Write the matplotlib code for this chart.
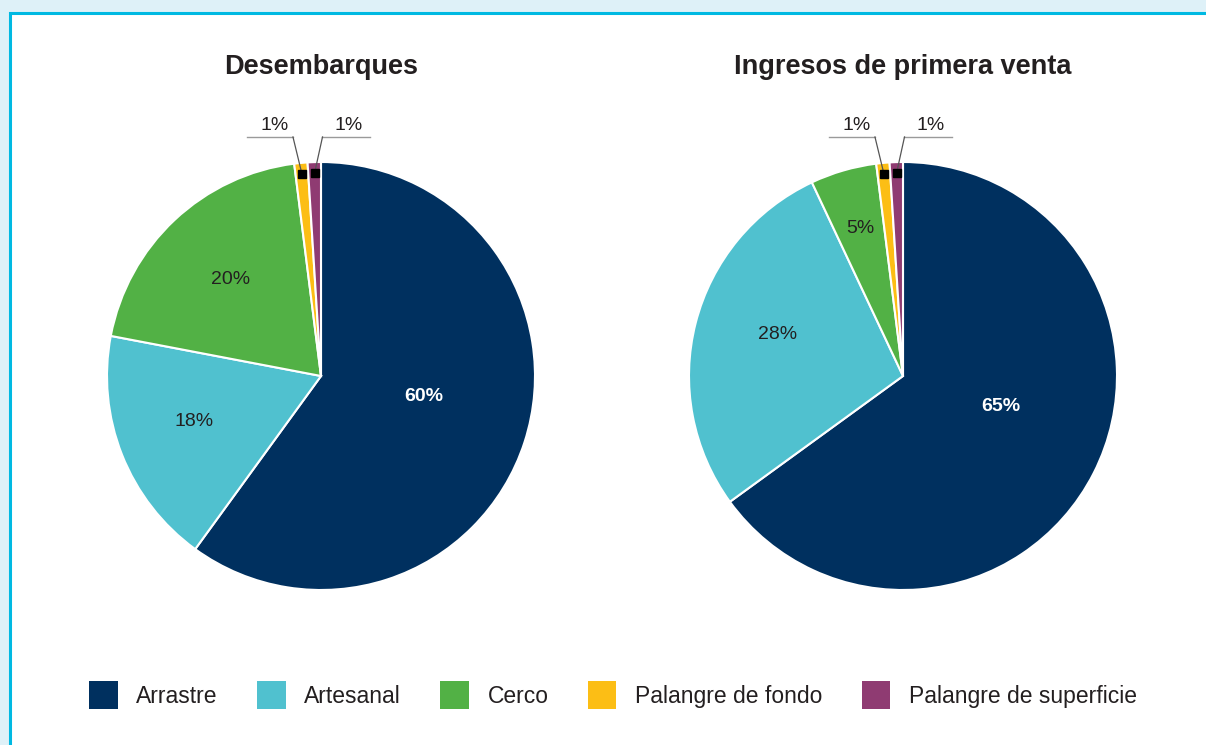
import numpy as np
import matplotlib
matplotlib.use("Agg")
import matplotlib.pyplot as plt
from matplotlib.patches import Rectangle

plt.rcParams['font.family'] = ['Liberation Sans', 'DejaVu Sans']

categories = ['Arrastre', 'Artesanal', 'Cerco', 'Palangre de fondo', 'Palangre de superficie']
colors = ['#00305f', '#50c1cf', '#52b145', '#fcbe15', '#8f3b72']
titles = ['Desembarques', 'Ingresos de primera venta']
desembarques = [60, 18, 20, 1, 1]
ingresos = [65, 28, 5, 1, 1]
series = [desembarques, ingresos]

# label placement (distance from centre, angle tweak in degrees) per slice
label_dist = [[0.49, 0.63, 0.62], [0.48, 0.62, 0.72]]
label_turn = [[6.5, -2, 0], [9.5, -4, 0]]

W, H = 1206, 745
fig = plt.figure(figsize=(W / 100, H / 100), dpi=100)
fig.patch.set_facecolor('#def1f8')

# white panel with cyan border
panel = Rectangle((9.5 / W, -0.1), 1.2, 1.1 - 13.5 / H, transform=fig.transFigure,
                  facecolor='white', edgecolor='#00b9e2', linewidth=2.2, zorder=-5)
fig.patches.append(panel)

R = 214
lim = 1.3
centres = [321, 903]
cy = 376
txt = '#231f20'

for i, vals in enumerate(series):
    cx = centres[i]
    side = 2 * lim * R
    ax = fig.add_axes([(cx - lim * R) / W, 1 - (cy + lim * R) / H, side / W, side / H])
    wedges, _ = ax.pie(vals, colors=colors, startangle=90, counterclock=False,
                       wedgeprops=dict(edgecolor='white', linewidth=1.5))
    ax.set_xlim(-lim, lim)
    ax.set_ylim(-lim, lim)
    ax.set_aspect('equal')
    ax.axis('off')
    ax.text(0, 302 / R, titles[i], ha='center', va='baseline', fontsize=19.5,
            fontweight='bold', color=txt)

    for j, w in enumerate(wedges[:3]):
        mid = np.deg2rad((w.theta1 + w.theta2) / 2 + label_turn[i][j])
        d = label_dist[i][j]
        ax.text(d * np.cos(mid), d * np.sin(mid), f'{vals[j]}%', ha='center', va='center',
                fontsize=14, color='white' if j == 0 else txt,
                fontweight='bold' if j == 0 else 'normal')

    # small slices: label above with leader lines
    line_y = 1.117
    spans = [(-0.346, -0.131), (0.007, 0.229)]
    text_x = [-0.215, 0.131]
    elbow = [-0.131, 0.007]
    for k, j in enumerate([3, 4]):
        w = wedges[j]
        mid = np.deg2rad((w.theta1 + w.theta2) / 2)
        dx, dy = 0.95 * np.cos(mid), 0.95 * np.sin(mid)
        ax.plot(spans[k], [line_y, line_y], color='#9a9a9a', linewidth=1)
        ax.plot([elbow[k], dx], [line_y, dy], color='#555555', linewidth=0.9)
        ax.plot(dx, dy, marker='s', markersize=5.5, color='black')
        ax.text(text_x[k], line_y + 0.015, f'{vals[j]}%', ha='center', va='bottom',
                fontsize=14, color=txt)

leg = fig.legend(wedges, categories, loc='center', bbox_to_anchor=(613 / W, 1 - 695 / H),
                 ncol=5, frameon=False, fontsize=16.5, handlelength=1.25, handleheight=1.45,
                 handletextpad=0.8, columnspacing=1.72, labelcolor=txt)
for h in leg.legend_handles:
    h.set_edgecolor('none')

fig.savefig('out.png', dpi=100, facecolor=fig.get_facecolor())
